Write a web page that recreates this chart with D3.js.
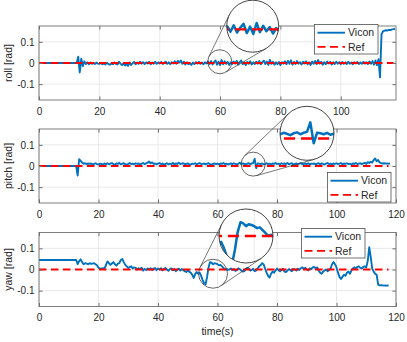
<!DOCTYPE html>
<html>
<head>
<meta charset="utf-8">
<script src="https://cdn.jsdelivr.net/npm/d3@7"></script>
<style>
  body { margin: 0; background: #fff; }
  svg { display: block; font-family: "Liberation Sans", Arial, sans-serif; }
</style>
</head>
<body>
<svg id="canvas"></svg>
<script>
//--data: samples every 0.5 s, values in mrad
const step = 0.5;

const rollMrad = [
  0,0,0,0,0,0,0,0,0,0, 0,0,0,0,0,0,0,0,0,0, 0,0,0,0,0,0,
  30,-45,20,-15,8,-5,3,-6,2,-4,
  0,-5,2,-3,-4,0,-6,-2,-7,1,
  -5,-8,-2,-6,2,-4,-7,6,-3,-10,
  -2,-12,-5,-14,3,-9,-2,5,-6,2,
  -4,6,-3,4,-5,3,-2,5,-6,2,
  -3,6,-4,3,-2,5,-5,2,6,-4,
  3,-6,4,-2,8,-3,10,2,12,-4,
  6,-7,3,-6,-2,-9,2,-5,4,-3,
  5,-4,2,-6,3,-2,7,-5,9,-7,
  4,12,-8,6,-10,14,-6,8,-4,5,
  -9,3,-5,7,-3,10,-8,4,12,-6,
  3,-10,5,-4,8,-7,3,-5,6,-3,
  9,-6,4,11,-5,7,-9,15,-4,6,
  -8,3,-6,5,-10,4,-3,8,-6,10,
  -4,13,-8,5,-5,9,-3,4,-7,6,
  -2,8,-6,3,-9,7,-4,10,-5,14,
  -3,6,-8,4,-6,7,-2,5,-7,3,
  -5,6,-3,4,-6,5,-4,3,-5,6,
  -3,2,-6,4,-2,5,-5,3,-4,6,
  -3,4,-5,7,-4,9,-8,12,-10,18,
  -68,135,150,153,155,154,157,156,159,160,
  162
];

const pitchMrad = [
  0,0,0,0,0,0,0,0,0,0, 0,0,0,0,0,0,0,0,0,0, 0,0,0,0,0,0,
  -45,32,24,16,11,13,9,12,10,12,
  8,10,13,9,7,11,10,6,12,9,
  13,8,11,14,9,7,12,10,15,8,
  11,13,9,6,10,14,9,11,8,13,
  10,12,7,11,14,9,12,16,21,13,
  17,10,12,8,11,14,9,12,6,10,
  13,8,11,9,14,7,12,10,15,9,
  11,13,8,10,12,9,7,11,10,13,
  8,11,14,9,10,12,8,11,13,9,
  7,10,12,9,11,8,12,10,14,9,
  11,7,10,12,9,13,10,8,11,15,
  9,12,10,7,11,13,9,12,14,34,
  -10,12,11,9,12,8,10,13,9,11,
  7,12,10,14,9,11,8,13,10,12,
  9,14,8,11,13,7,10,12,9,11,
  14,8,10,12,9,13,7,11,10,12,
  8,11,13,9,12,10,7,12,14,9,
  11,8,12,10,13,9,11,14,8,12,
  10,13,9,11,7,12,10,14,9,11,
  13,9,12,15,10,18,14,20,16,28,
  36,22,28,17,14,12,13,11,12,11,
  12
];

const yawMrad = [
  45,45,45,45,45,45,45,45,45,45, 45,45,45,45,45,45,45,45,45,45, 45,45,45,45,45,45,
  25,40,48,35,25,30,28,25,30,27,
  28,30,25,20,8,5,4,6,5,20,
  38,30,22,28,35,25,18,28,30,45,
  50,35,22,15,8,12,15,5,10,8,
  0,6,2,8,-5,3,-3,5,0,6,
  -2,4,7,-3,5,0,6,-4,3,7,
  0,-6,2,5,-4,2,-8,0,4,-5,
  2,-3,-8,-12,-5,-10,-15,-25,-40,-22,
  -12,-20,-15,-30,-50,-65,-70,-35,10,35,
  32,25,30,28,25,20,22,15,8,0,
  3,-2,0,5,-3,2,-6,-3,5,2,
  -5,-10,-8,2,8,5,-5,-2,3,-8,
  -4,5,15,20,30,25,5,-15,-30,-38,
  -20,-10,-15,-5,5,-3,-8,-2,3,-10,
  -12,-5,2,-3,-8,3,0,-5,4,-2,
  6,10,4,8,0,-4,5,2,10,12,
  5,10,-5,-15,-20,-10,-5,0,-8,-2,
  5,25,35,25,10,-15,-35,-45,-35,-25,
  -30,-15,-10,-20,-5,5,10,5,12,15,
  8,5,12,15,10,40,105,60,5,-10,
  -20,-25,-72,-75,-74,-75,-76,-75,-76,-76
];

// reference is zero for the whole run
const refTime = [0, 117.5];
const refValue = [0, 0];

const xTickValues = [0, 20, 40, 60, 80, 100, 120];
const yTickValues = [-0.1, 0, 0.1];
const legendLabels = ["Vicon", "Ref"];
const yLabels = ["roll [rad]", "pitch [rad]", "yaw [rad]"];
const xLabel = "time(s)";
//--

//--canvas
const width = 407, height = 342;
const left = 39, right = 396;
const blue = "#0072BD", red = "#FF0000", ink = "#262626";

const svg = d3.select("#canvas").attr("width", width).attr("height", height);

const toPoints = vals => vals.map((v, i) => [i * step, v / 1000]);
const refPoints = refTime.map((t, i) => [t, refValue[i]]);

const panels = [
  { vals: rollMrad, xMax: 118.3, top: 26, bottom: 100,
    legend: { x: 314.5, y: 24.5 },
    inset: { t0: 59.9, v0: 0.007, vs: 0.006, r: 12, cx: 252.7, cy: 26.2, R: 26 } },
  { vals: pitchMrad, xMax: 120, top: 129, bottom: 203,
    legend: { x: 327.5, y: 172.5 },
    inset: { t0: 72, v0: 0.011, vs: 0.009, r: 12, cx: 307, cy: 133.3, R: 27 } },
  { vals: yawMrad, xMax: 120, top: 232.5, bottom: 306.5,
    legend: { x: 301.5, y: 228.5 },
    inset: { t0: 58.5, v0: 0, vs: -0.02, r: 14.5, cx: 246, cy: 236, R: 27 } }
];

let drawPanel = (p, idx) => {
  const x = d3.scaleLinear().domain([0, p.xMax]).range([left, right]);
  const y = d3.scaleLinear().domain([-0.175, 0.175]).range([p.bottom, p.top]);
  const xt = xTickValues.filter(t => t <= p.xMax);
  const data = toPoints(p.vals);
  const g = svg.append("g");

  // grid
  g.selectAll(".vg").data(xt).enter().append("line")
    .attr("x1", d => x(d)).attr("x2", d => x(d))
    .attr("y1", p.top).attr("y2", p.bottom)
    .attr("stroke", "#e3e3e3").attr("stroke-width", 0.8);
  g.selectAll(".hg").data(yTickValues).enter().append("line")
    .attr("x1", left).attr("x2", right)
    .attr("y1", d => y(d)).attr("y2", d => y(d))
    .attr("stroke", "#e3e3e3").attr("stroke-width", 0.8);

  // lines
  const clipId = "clip" + idx;
  svg.append("clipPath").attr("id", clipId).append("rect")
    .attr("x", left).attr("y", p.top).attr("width", right - left).attr("height", p.bottom - p.top);
  const line = d3.line().x(d => x(d[0])).y(d => y(d[1]));
  const lines = g.append("g").attr("clip-path", `url(#${clipId})`);
  lines.append("path").attr("d", line(data))
    .attr("fill", "none").attr("stroke", blue).attr("stroke-width", 1.9)
    .attr("stroke-linejoin", "round");
  lines.append("path").attr("d", line(refPoints))
    .attr("fill", "none").attr("stroke", red).attr("stroke-width", 1.8)
    .attr("stroke-dasharray", "7.5,4.5");

  // axes (inward ticks on every side)
  const fmt = d => d === 0 ? "0" : String(d);
  const styleAxis = a => {
    a.select(".domain").remove();
    a.selectAll("line").attr("stroke", "#707070");
    a.selectAll("text").attr("fill", ink).attr("font-size", 10)
      .attr("font-family", '"Liberation Sans", Arial, sans-serif');
  };
  g.append("g").attr("transform", `translate(0,${p.bottom})`)
    .call(d3.axisBottom(x).tickValues(xt).tickSize(-3.6).tickPadding(7.8).tickFormat(fmt)).call(styleAxis);
  g.append("g").attr("transform", `translate(0,${p.top})`)
    .call(d3.axisTop(x).tickValues(xt).tickSize(-3.6).tickFormat("")).call(styleAxis);
  g.append("g").attr("transform", `translate(${left},0)`)
    .call(d3.axisLeft(y).tickValues(yTickValues).tickSize(-3.6).tickPadding(4.5).tickFormat(fmt)).call(styleAxis);
  g.append("g").attr("transform", `translate(${right},0)`)
    .call(d3.axisRight(y).tickValues(yTickValues).tickSize(-3.6).tickFormat("")).call(styleAxis);
  g.append("rect").attr("x", left).attr("y", p.top)
    .attr("width", right - left).attr("height", p.bottom - p.top)
    .attr("fill", "none").attr("stroke", "#707070").attr("stroke-width", 0.9);

  // y label
  g.append("text")
    .attr("transform", `translate(12,${(p.top + p.bottom) / 2}) rotate(-90)`)
    .attr("text-anchor", "middle").attr("font-size", 10.5).attr("fill", ink)
    .text(yLabels[idx]);

  // legend
  const lg = g.append("g").attr("transform", `translate(${p.legend.x},${p.legend.y})`);
  lg.append("rect").attr("width", 63.5).attr("height", 29.5)
    .attr("fill", "#fff").attr("stroke", "#505050").attr("stroke-width", 0.8);
  legendLabels.forEach((lab, i) => {
    const yy = 8.2 + i * 14.2;
    lg.append("line").attr("x1", 3).attr("x2", 30.5).attr("y1", yy).attr("y2", yy)
      .attr("stroke", i === 0 ? blue : red).attr("stroke-width", i === 0 ? 1.9 : 1.8)
      .attr("stroke-dasharray", i === 0 ? null : "8,4.5");
    lg.append("text").attr("x", 33.5).attr("y", yy).attr("dy", "0.36em")
      .attr("font-size", 10.5).attr("fill", ink).text(lab);
  });

  // magnified inset
  const ins = p.inset;
  const m = ins.R / ins.r;
  const sx = x(ins.t0), sy = y(ins.v0);
  const ix = t => ins.cx + (x(t) - sx) * m;
  const iy = v => ins.cy + (y(v) - sy) * m;
  const scx = x(ins.t0), scy = y(ins.vs);

  // tangent lines from the small circle to the big one
  const dx = ins.cx - scx, dy = ins.cy - scy, L = Math.hypot(dx, dy);
  const phi = Math.atan2(dy, dx), alpha = Math.acos((ins.r - ins.R) / L);
  [phi + alpha, phi - alpha].forEach(a => {
    g.append("line")
      .attr("x1", scx + ins.r * Math.cos(a)).attr("y1", scy + ins.r * Math.sin(a))
      .attr("x2", ins.cx + ins.R * Math.cos(a)).attr("y2", ins.cy + ins.R * Math.sin(a))
      .attr("stroke", "#404040").attr("stroke-width", 0.7);
  });
  g.append("circle").attr("cx", scx).attr("cy", scy).attr("r", ins.r)
    .attr("fill", "none").attr("stroke", "#404040").attr("stroke-width", 0.8);

  const icId = "iclip" + idx;
  svg.append("clipPath").attr("id", icId).append("circle")
    .attr("cx", ins.cx).attr("cy", ins.cy).attr("r", ins.R);
  const ig = g.append("g").attr("clip-path", `url(#${icId})`);
  ig.append("circle").attr("cx", ins.cx).attr("cy", ins.cy).attr("r", ins.R).attr("fill", "#fff");
  ig.selectAll(".ivg").data(xt).enter().append("line")
    .attr("x1", d => ix(d)).attr("x2", d => ix(d))
    .attr("y1", ins.cy - ins.R).attr("y2", ins.cy + ins.R)
    .attr("stroke", "#e3e3e3").attr("stroke-width", 0.8);
  ig.selectAll(".ihg").data(yTickValues).enter().append("line")
    .attr("x1", ins.cx - ins.R).attr("x2", ins.cx + ins.R)
    .attr("y1", d => iy(d)).attr("y2", d => iy(d))
    .attr("stroke", "#e3e3e3").attr("stroke-width", 0.8);
  const iline = d3.line().x(d => ix(d[0])).y(d => iy(d[1]));
  ig.append("path").attr("d", iline(data))
    .attr("fill", "none").attr("stroke", blue).attr("stroke-width", 2.5)
    .attr("stroke-linejoin", "round");
  ig.append("path").attr("d", iline(refPoints))
    .attr("fill", "none").attr("stroke", red).attr("stroke-width", 2.4)
    .attr("stroke-dasharray", "11,6");
  g.append("circle").attr("cx", ins.cx).attr("cy", ins.cy).attr("r", ins.R)
    .attr("fill", "none").attr("stroke", "#303030").attr("stroke-width", 0.9);
};

panels.forEach(drawPanel);

svg.append("text").attr("x", (left + right) / 2).attr("y", 335)
  .attr("text-anchor", "middle").attr("font-size", 10.5).attr("fill", ink)
  .text(xLabel);
//--
</script>
</body>
</html>
